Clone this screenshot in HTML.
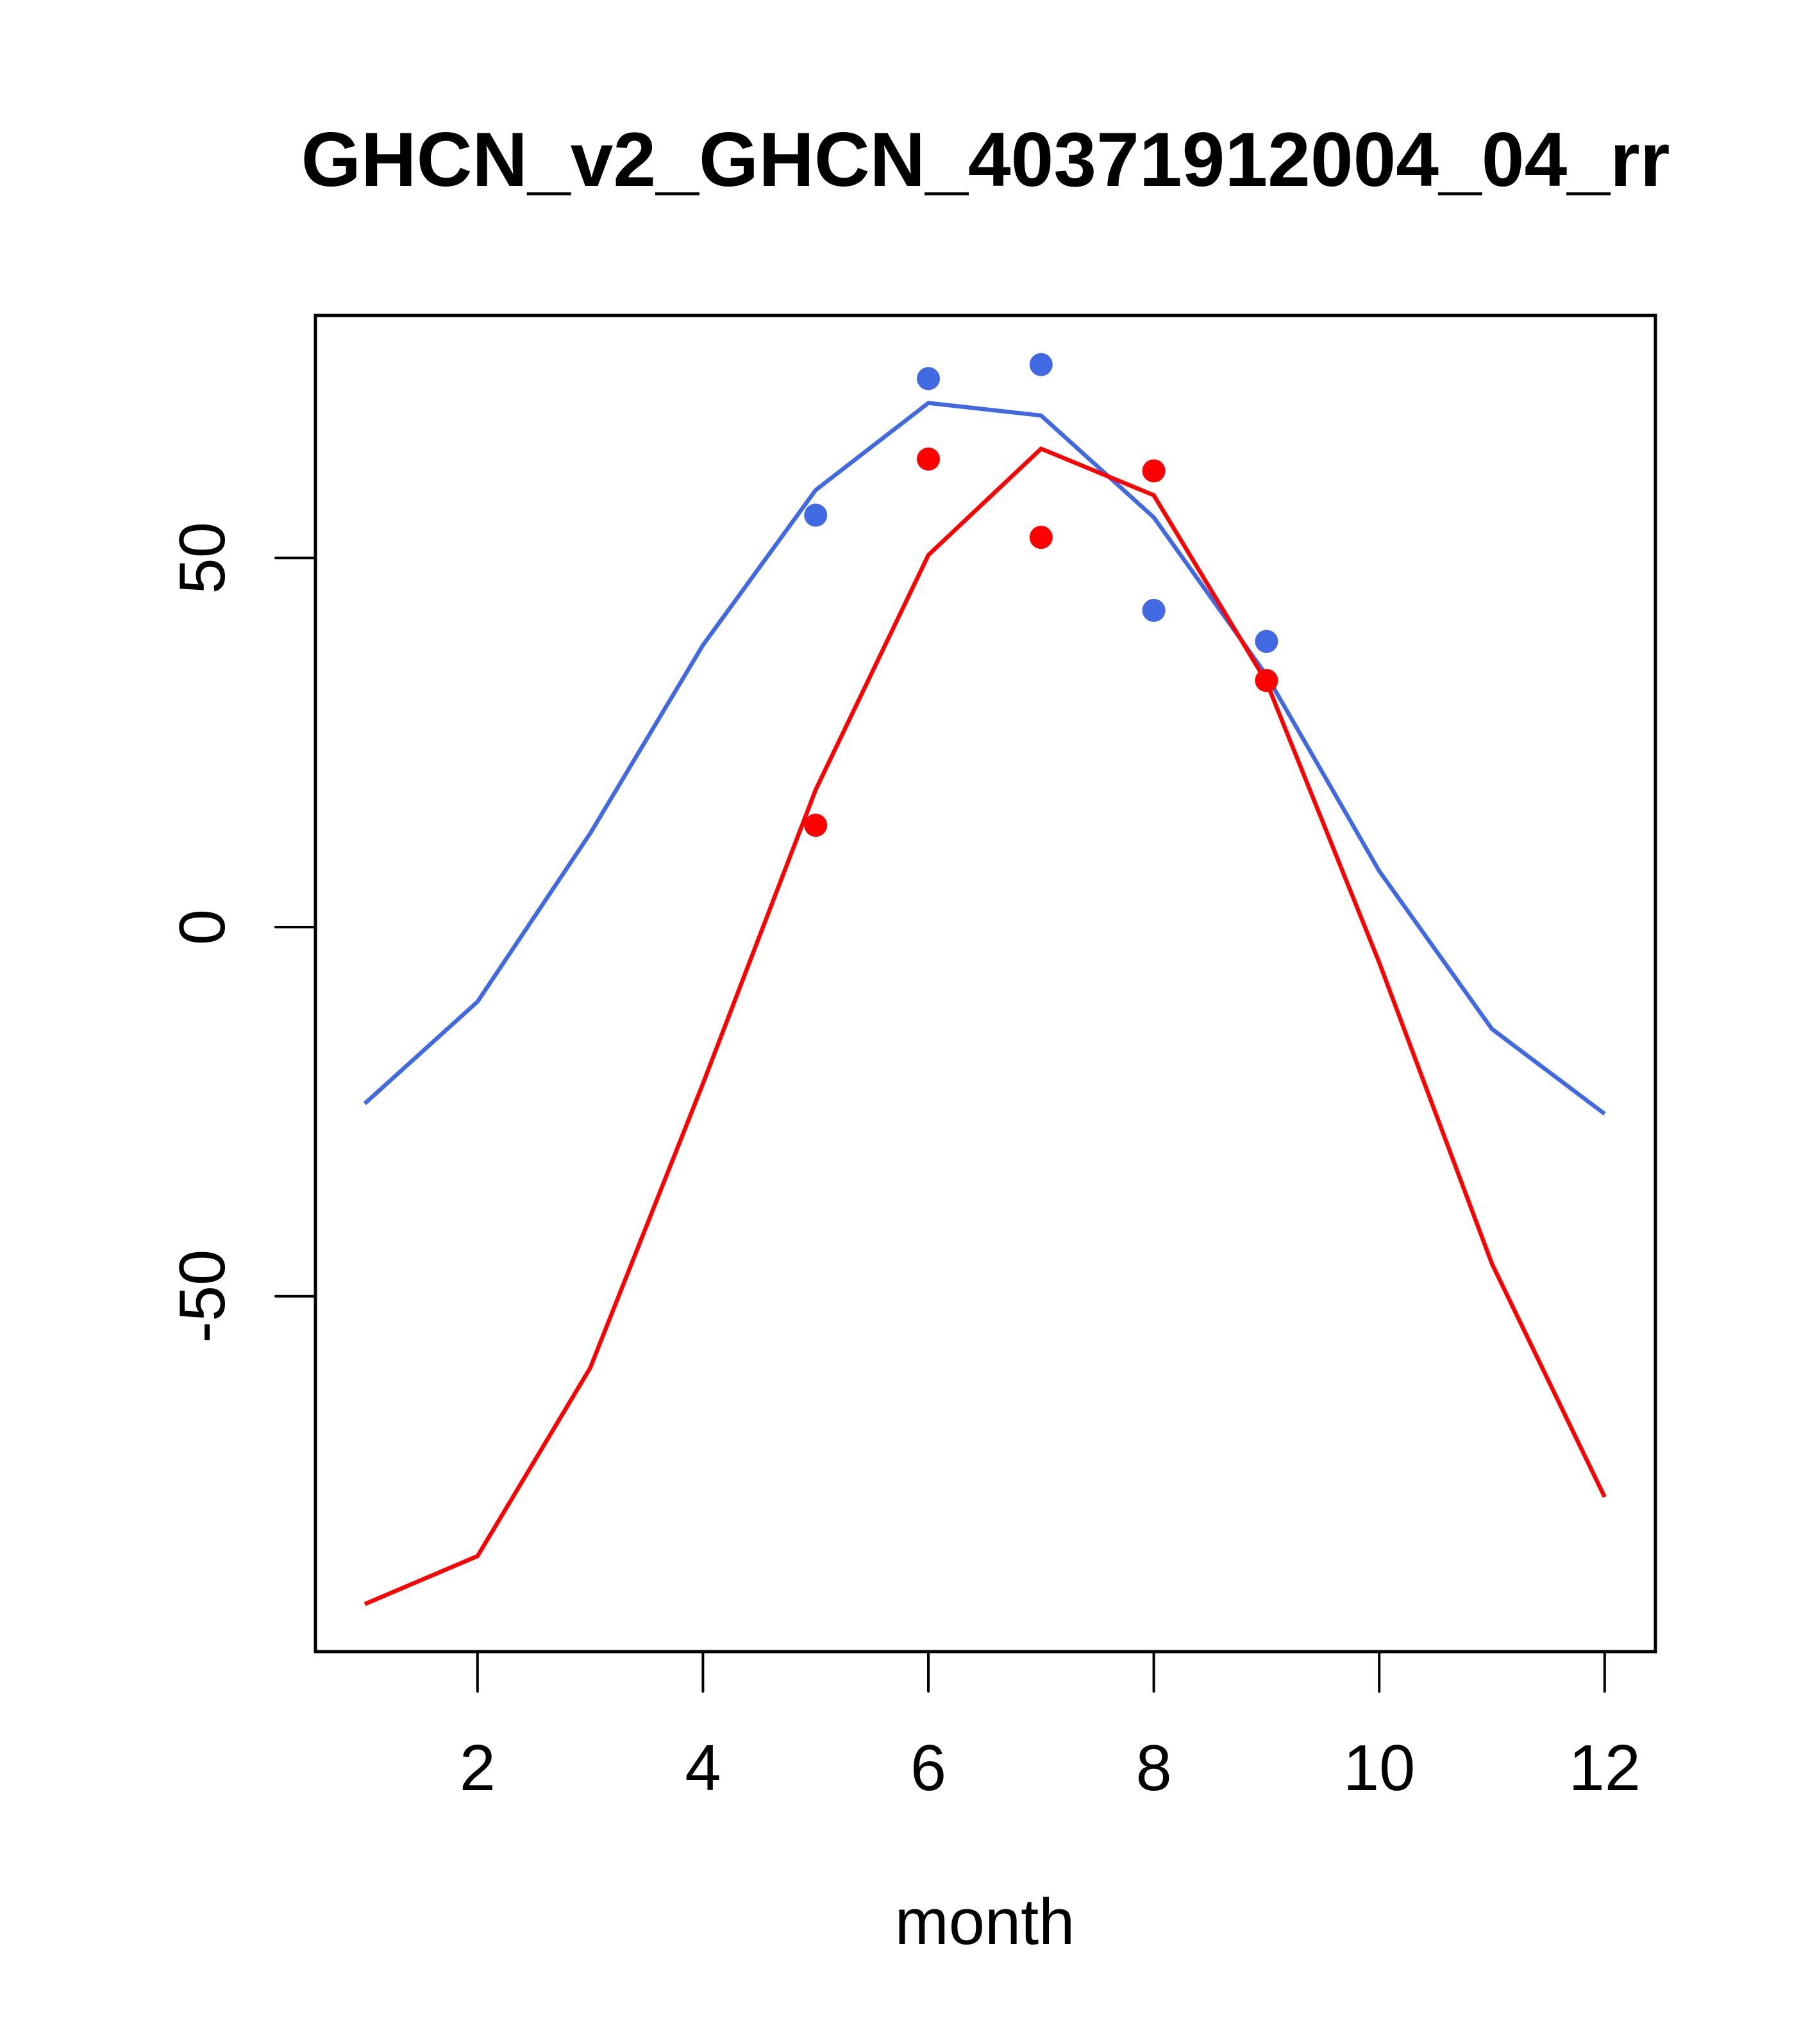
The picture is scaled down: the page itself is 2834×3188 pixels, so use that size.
<!DOCTYPE html>
<html><head><meta charset="utf-8"><style>
html,body{margin:0;padding:0;background:#fff;}
svg{display:block;font-family:"Liberation Sans",Arial,sans-serif;}
</style></head><body>
<svg id="chart" width="2834" height="3188" viewBox="0 0 2834 3188" xmlns="http://www.w3.org/2000/svg">
<rect width="2834" height="3188" fill="#fff"/>
<text x="1537" y="290" font-size="120" font-weight="bold" text-anchor="middle">GHCN_v2_GHCN_40371912004_04_rr</text>
<rect x="492" y="492" width="2090" height="2084" fill="none" stroke="#000" stroke-width="5"/>
<text x="1536" y="3032" font-size="101" text-anchor="middle">month</text>
<g id="xaxis"></g>
<g id="yaxis"></g>
<g id="series"></g>
</svg>
<script>
const months = [1,2,3,4,5,6,7,8,9,10,11,12];
const blueLine = [-23.9,-10.1,12.7,38.2,59.2,71.0,69.3,55.5,34.1,7.6,-13.8,-25.3];
const redLine = [-91.7,-85.2,-59.7,-21.2,18.6,50.4,64.8,58.5,33.2,-4.8,-45.6,-77.2];
const pointMonths = [5,6,7,8,9];
const bluePoints = [55.8,74.3,76.2,42.9,38.7];
const redPoints = [13.8,63.4,52.8,61.8,33.4];
const xTicks = [2,4,6,8,10,12];
const yTicks = [-50,0,50];

const NS = "http://www.w3.org/2000/svg";
function xs(m){ return 569 + 175.8*(m-1); }
function ys(v){ return 1446 - v*11.514; }
function mk(tag, attrs, parent){
  const e = document.createElementNS(NS, tag);
  for (const k in attrs) e.setAttribute(k, attrs[k]);
  parent.appendChild(e); return e;
}
const xa = document.getElementById('xaxis');
const ya = document.getElementById('yaxis');
const sg = document.getElementById('series');
xTicks.forEach(t=>{
  const l = mk('line',{x1:xs(t),x2:xs(t),y1:2576,y2:2638,stroke:'#000','stroke-width':4,'stroke-linecap':'round'},xa);
  
  
  const tx = mk('text',{x:xs(t),y:2792,'font-size':101,'text-anchor':'middle'},xa);
  tx.textContent = t;
  
  
});
yTicks.forEach(t=>{
  const l = mk('line',{x1:430,x2:492,y1:ys(t),y2:ys(t),stroke:'#000','stroke-width':4,'stroke-linecap':'round'},ya);
  
  
  const tx = mk('text',{x:0,y:0,'font-size':101,'text-anchor':'middle',transform:`translate(350,${ys(t)}) rotate(-90)`},ya);
  tx.textContent = t;
  
  
});
function line(vals,color,name){
  const p = mk('polyline',{points:months.map((m,i)=>xs(m)+','+ys(vals[i])).join(' '),fill:'none',stroke:color,'stroke-width':6.5},sg);
  
  
}
function pts(vals,color,name){
  pointMonths.forEach((m,i)=>{
    const c = mk('circle',{cx:xs(m),cy:ys(vals[i]),r:18,fill:color},sg);
    
    
  });
}
line(blueLine,'#4169E1','blue-line');
line(redLine,'#FF0000','red-line');
pts(bluePoints,'#4169E1','blue-point');
pts(redPoints,'#FF0000','red-point');
</script>
</body></html>
